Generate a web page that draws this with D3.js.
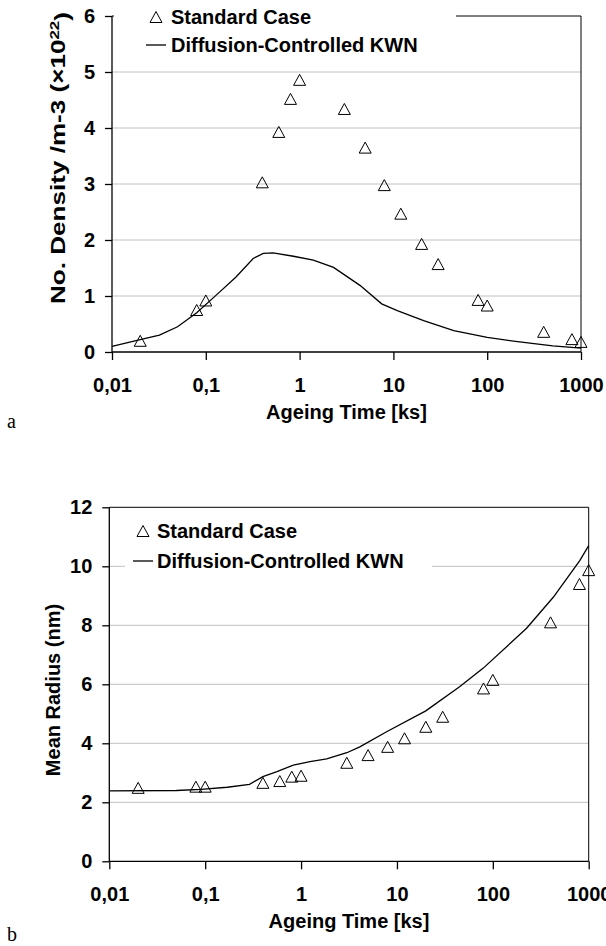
<!DOCTYPE html>
<html><head><meta charset="utf-8">
<script src="https://cdn.jsdelivr.net/npm/d3@7/dist/d3.min.js"></script>
<style>
body{margin:0;background:#fff}
text{font-family:"Liberation Sans",Arial,Helvetica,sans-serif;font-weight:bold;fill:#000}
</style>
</head><body>
<svg id="chart" width="606" height="946"></svg>
<script>
// ---- data ----
const stdTimes = [0.02,0.08,0.1,0.4,0.6,0.8,1,3,5,8,12,20,30,80,100,400,800,1000];
const stdDensity = [0.2,0.75,0.92,3.03,3.93,4.52,4.86,4.34,3.65,2.98,2.47,1.93,1.57,0.93,0.83,0.36,0.23,0.18];
const stdRadius = [2.49,2.53,2.53,2.66,2.72,2.87,2.9,3.34,3.6,3.88,4.17,4.56,4.9,5.86,6.15,8.1,9.4,9.87];
const kwnDensityTimes = [0.01,0.02,0.032,0.05,0.08,0.13,0.21,0.32,0.41,0.52,0.86,1.4,2.3,4.4,7.5,11,21,44,100,200,500,1000];
const kwnDensity = [0.1,0.22,0.3,0.45,0.7,1.02,1.34,1.67,1.76,1.77,1.71,1.64,1.51,1.19,0.86,0.74,0.56,0.38,0.26,0.19,0.11,0.07];
const kwnRadiusTimes = [0.01,0.05,0.09,0.17,0.29,0.4,0.56,0.83,1.24,1.85,3.0,4.1,7.8,20,45,79,225,427,810,1000];
const kwnRadius = [2.39,2.4,2.44,2.51,2.61,2.87,3.04,3.26,3.38,3.47,3.68,3.88,4.39,5.1,5.92,6.54,7.9,8.95,10.2,10.7];
const xTickValues = [0.01,0.1,1,10,100,1000];
const xTickLabels = ["0,01","0,1","1","10","100","1000"];
const densityTicks = [0,1,2,3,4,5,6];
const radiusTicks = [0,2,4,6,8,10,12];
const legendLabels = ["Standard Case","Diffusion-Controlled KWN"];
const xTitle = "Ageing Time [ks]";

const svg = d3.select("#chart");
const tri = "M0,-5.5L6,5.5L-6,5.5Z";

function panel(cfg){
  const g = svg.append("g");
  const x = d3.scaleLog().domain([0.01,1000]).range([cfg.left,cfg.right]);
  const y = d3.scaleLinear().domain([0,cfg.yMax]).range([cfg.bottom,cfg.top]);
  // gridlines
  g.append("g").selectAll("line").data(cfg.yTicks.filter(v=>v>0 && v<cfg.yMax)).join("line")
    .attr("x1",cfg.left).attr("x2",cfg.right).attr("y1",d=>y(d)).attr("y2",d=>y(d))
    .attr("stroke","#c0c0c0").attr("stroke-width",1);
  // border top/right
  g.append("path").attr("d",`M${cfg.left},${y(cfg.yMax)}H${cfg.right}V${cfg.bottom}`)
    .attr("fill","none").attr("stroke","#000").attr("stroke-width",1);
  // legend background
  g.append("rect").attr("x",cfg.legend.x).attr("y",cfg.legend.y).attr("width",cfg.legend.w).attr("height",cfg.legend.h).attr("fill","#fff");
  // axes
  const ya = d3.axisLeft(y).tickValues(cfg.yTicks).tickSize(7).tickPadding(10).tickFormat(d3.format("d"));
  const yg = g.append("g").attr("transform",`translate(${cfg.left},0)`).call(ya);
  const xa = d3.axisBottom(x).tickValues(xTickValues).tickSize(8).tickPadding(18).tickFormat((d,i)=>xTickLabels[i]);
  const xg = g.append("g").attr("transform",`translate(0,${cfg.bottom})`).call(xa);
  [yg,xg].forEach(a=>{
    a.select(".domain").attr("stroke","#000").attr("stroke-width",1.3);
    a.selectAll(".tick line").attr("stroke","#000").attr("stroke-width",1.3);
    a.selectAll("text").style("font-size","20px").attr("fill","#000");
  });
  yg.select(".domain").attr("d",`M0,${cfg.bottom}V${y(cfg.yMax)}`);
  xg.select(".domain").attr("d",`M${cfg.left},0H${cfg.right}`);
  // KWN line
  const line = d3.line().x(d=>x(d[0])).y(d=>y(d[1]));
  g.append("path").datum(cfg.lineT.map((t,i)=>[t,cfg.lineV[i]])).attr("d",line)
    .attr("fill","none").attr("stroke","#000").attr("stroke-width",1.3);
  // triangles
  g.append("g").selectAll("path").data(stdTimes.map((t,i)=>[t,cfg.pts[i]])).join("path")
    .attr("d",tri).attr("transform",d=>`translate(${x(d[0])},${y(d[1])})`)
    .attr("fill","none").attr("stroke","#000").attr("stroke-width",1);
  // legend
  const L = cfg.legend;
  g.append("path").attr("d",tri).attr("transform",`translate(${L.mx},${L.r1})`).attr("fill","none").attr("stroke","#000");
  g.append("text").attr("x",L.tx).attr("y",L.r1).attr("dy","0.36em").style("font-size","20px").text(legendLabels[0]);
  g.append("line").attr("x1",L.mx-10).attr("x2",L.mx+10).attr("y1",L.r2).attr("y2",L.r2).attr("stroke","#000").attr("stroke-width",1.3);
  g.append("text").attr("x",L.tx).attr("y",L.r2).attr("dy","0.36em").style("font-size","20px").text(legendLabels[1]);
  // titles
  g.append("text").attr("x",(cfg.left+cfg.right)/2).attr("y",cfg.bottom+67).attr("text-anchor","middle").style("font-size","20px").text(xTitle);
  const yt = g.append("text").attr("transform",`translate(${cfg.ytX},${cfg.ytY}) rotate(-90)`).attr("text-anchor","middle").style("font-size","20px");
  cfg.yTitle(yt);
  g.append("text").attr("x",7).attr("y",cfg.bottom+cfg.letterDy).style("font-family","'Liberation Serif','Times New Roman',serif").style("font-weight","normal").style("font-size","20px").text(cfg.letter);
}

panel({left:112,right:581,top:16,bottom:352,yMax:6,yTicks:densityTicks,
  pts:stdDensity,lineT:kwnDensityTimes,lineV:kwnDensity,
  legend:{x:114,y:0,w:342,h:62,mx:156,tx:171,r1:17,r2:45},
  ytX:65,ytY:158,letter:"a",letterDy:76,
  yTitle:t=>{t.attr("textLength",292).attr("lengthAdjust","spacingAndGlyphs");
    t.append("tspan").text("No. Density /m-3 (×10");
    t.append("tspan").attr("dy","-0.5em").style("font-size","13px").text("22");
    t.append("tspan").attr("dy","0.5em").text(")");}
});
panel({left:109.3,right:588.7,top:507.3,bottom:861.3,yMax:12,yTicks:radiusTicks,
  pts:stdRadius,lineT:kwnRadiusTimes,lineV:kwnRadius,
  legend:{x:125,y:512,w:307,h:68,mx:143,tx:157,r1:531,r2:561},
  ytX:60,ytY:690,letter:"b",letterDy:80,
  yTitle:t=>t.text("Mean Radius (nm)")
});
</script>
</body></html>
